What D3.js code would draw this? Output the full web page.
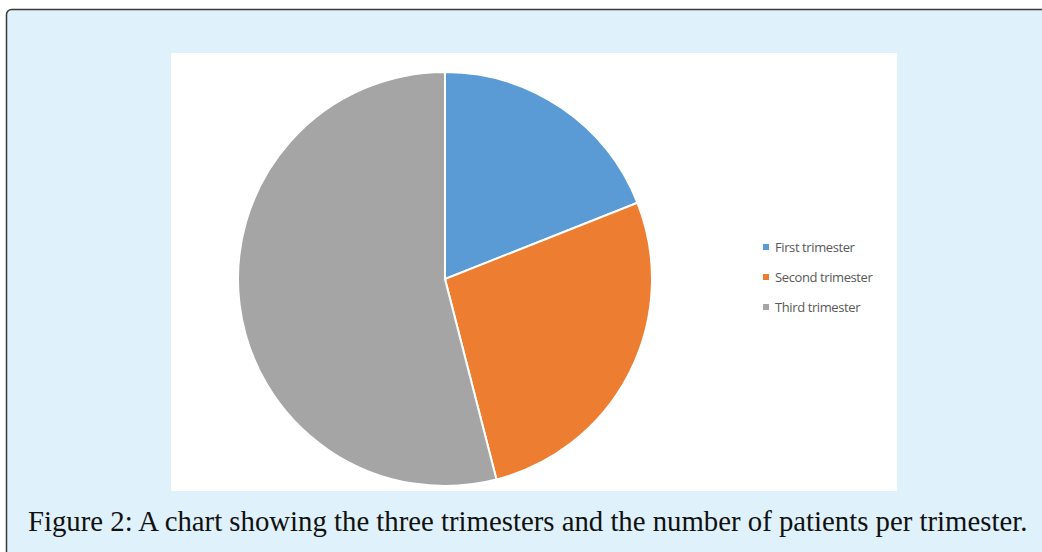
<!DOCTYPE html>
<html>
<head>
<meta charset="utf-8">
<script src="https://cdn.jsdelivr.net/npm/d3@7"></script>
<style>
  html, body { margin: 0; padding: 0; background: #ffffff; }
  svg { display: block; }
</style>
</head>
<body>
<svg id="chart" width="1042" height="552"></svg>
<script>
// Patients per trimester (percent of total)
const categories = ["First trimester", "Second trimester", "Third trimester"];
const values = [19, 27, 54];
const colors = ["#5B9BD5", "#ED7D31", "#A5A5A5"];
const caption = "Figure 2: A chart showing the three trimesters and the number of patients per trimester.";

const svg = d3.select("#chart");

// Figure panel with rounded border
svg.append("rect")
  .attr("x", 6.5).attr("y", 9.5)
  .attr("width", 1060).attr("height", 560)
  .attr("rx", 5).attr("ry", 5)
  .attr("fill", "#dff1fb")
  .attr("stroke", "#3a3a3a")
  .attr("stroke-width", 1.5);

// White chart area
svg.append("rect")
  .attr("x", 171).attr("y", 53)
  .attr("width", 726).attr("height", 438)
  .attr("fill", "#ffffff");

// Pie
const cx = 445, cy = 279, radius = 207;
const pie = d3.pie().sort(null).value(d => d);
const arc = d3.arc().innerRadius(0).outerRadius(radius);
const color = d3.scaleOrdinal().domain(categories).range(colors);

svg.append("g")
  .attr("transform", `translate(${cx},${cy})`)
  .selectAll("path")
  .data(pie(values))
  .join("path")
  .attr("d", arc)
  .attr("fill", (d, i) => color(categories[i]))
  .attr("stroke", "#ffffff")
  .attr("stroke-width", 2);

// Legend
const legendY = d3.scalePoint().domain(categories).range([247, 307]);
const legend = svg.append("g");
const item = legend.selectAll("g")
  .data(categories)
  .join("g")
  .attr("transform", d => `translate(763,${legendY(d)})`);
item.append("rect")
  .attr("x", 0).attr("y", -3)
  .attr("width", 6).attr("height", 6)
  .attr("fill", d => color(d));
item.append("text")
  .attr("x", 12).attr("y", 0)
  .attr("dy", "0.35em")
  .attr("font-family", "'Open Sans', 'Noto Sans', sans-serif")
  .attr("font-size", 13)
  .attr("letter-spacing", -0.4)
  .attr("fill", "#595959")
  .text(d => d);

// Caption, sized so it spans the panel width
const cap = svg.append("text")
  .attr("x", 28).attr("y", 531)
  .attr("font-family", "'Liberation Serif', 'DejaVu Serif', serif")
  .attr("font-size", 26)
  .attr("fill", "#111111")
  .text(caption);
const targetWidth = 1000;
const w = cap.node().getComputedTextLength();
cap.attr("font-size", 26 * targetWidth / w);
</script>
</body>
</html>
